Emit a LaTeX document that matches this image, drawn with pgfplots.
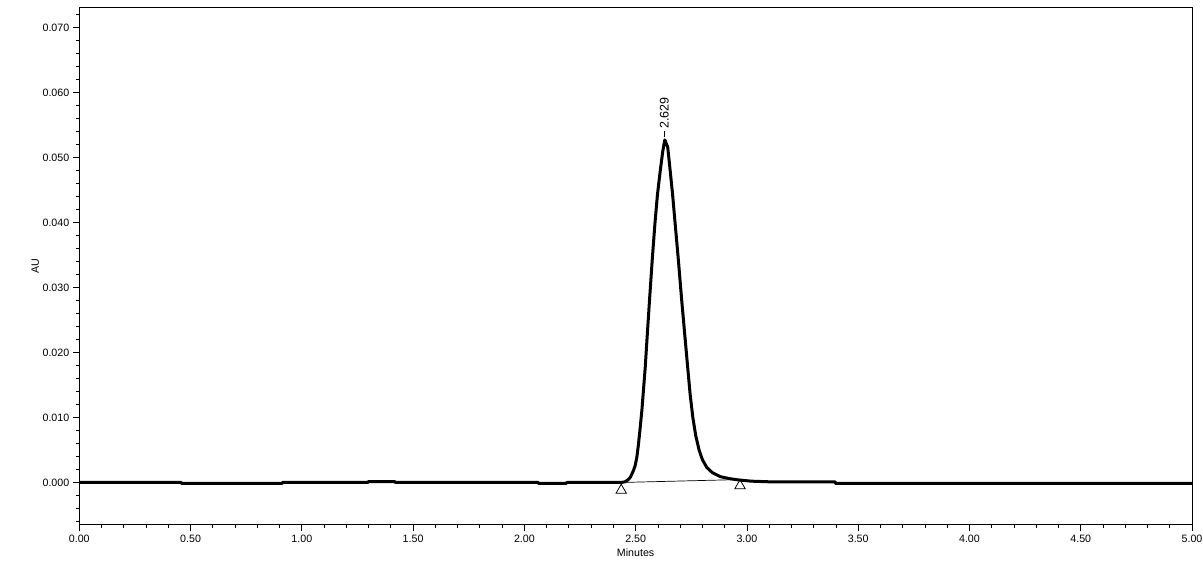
\documentclass[border=0pt]{standalone}
\usepackage{fontspec}
\setmainfont{Liberation Sans}
\usepackage{pgfplots}
\pgfplotsset{compat=1.18}
\usetikzlibrary{calc}

\begin{document}
\begin{tikzpicture}
\begin{axis}[
  scale only axis,
  width=1112.7bp, height=517.7bp,
  xmin=0, xmax=5, ymin=-0.00654, ymax=0.0731,
  xtick={0,0.5,...,5}, minor x tick num=4,
  ytick={0,0.01,0.02,0.03,0.04,0.05,0.06,0.07},
  minor ytick={-0.006,-0.004,-0.002,0.002,0.004,0.006,0.008,0.012,0.014,0.016,0.018,
    0.022,0.024,0.026,0.028,0.032,0.034,0.036,0.038,0.042,0.044,0.046,0.048,
    0.052,0.054,0.056,0.058,0.062,0.064,0.066,0.068,0.072},
  scaled y ticks=false, scaled x ticks=false,
  xticklabel style={/pgf/number format/.cd, fixed, fixed zerofill, precision=2, assume math mode=true},
  yticklabel style={/pgf/number format/.cd, fixed, fixed zerofill, precision=3, assume math mode=true},
  tick label style={font=\fontsize{10.67bp}{12bp}\selectfont},
  label style={font=\fontsize{10.67bp}{12bp}\selectfont},
  tick pos=left, tick align=outside,
  major tick length=6.5bp, minor tick length=3.5bp,
  every tick/.style={black, line width=0.8bp},
  axis line style={line width=1bp},
  xlabel={Minutes}, ylabel={AU},
  xlabel style={at={(axis description cs:0.5,0)}, anchor=center, yshift=-28bp},
  ylabel style={at={(axis description cs:0,0.5)}, anchor=center, yshift=44bp},
]
% integration baseline and markers
\addplot[black, line width=0.7bp] coordinates {(2.435,0.0) (2.969,0.00045)};
\addplot[black, only marks, mark=triangle, mark size=6bp, mark options={line width=0.8bp}]
  coordinates {(2.435,-0.0012) (2.969,-0.0005)};
% chromatogram
\addplot[black, line width=3bp, line join=round] coordinates {
  (0,0) (0.458,0) (0.460,-0.00015) (0.911,-0.00015) (0.913,0) (1.297,0)
  (1.299,0.00015) (1.418,0.00015) (1.420,0) (2.062,0) (2.064,-0.00015)
  (2.188,-0.00015) (2.190,0) (2.435,0) (2.452,0.0001) (2.465,0.0004)
  (2.476,0.0008) (2.486,0.0015) (2.497,0.0025) (2.505,0.0038) (2.512,0.0057)
  (2.520,0.0083) (2.528,0.0111) (2.543,0.0177) (2.552,0.0226) (2.562,0.0279)
  (2.575,0.0345) (2.587,0.0400) (2.598,0.0443) (2.610,0.0478) (2.622,0.0510)
  (2.631,0.0527) (2.644,0.0516) (2.655,0.0480) (2.666,0.0443) (2.677,0.0400)
  (2.692,0.0342) (2.707,0.0280) (2.720,0.0230) (2.733,0.0180) (2.745,0.0135)
  (2.757,0.0100) (2.770,0.0072) (2.785,0.0050) (2.800,0.0035) (2.820,0.0023)
  (2.845,0.0015) (2.880,0.0009) (2.920,0.0006) (2.960,0.0004) (3.020,0.0002)
  (3.104,0.0001) (3.396,0.0001) (3.398,-0.00015) (5,-0.00015)};
\draw[black, line width=0.8bp] (axis cs:2.629,0.0531) -- ([yshift=6bp]axis cs:2.629,0.0531)
  node[rotate=90, anchor=west, inner sep=2bp, font=\fontsize{12.5bp}{14bp}\selectfont] {2.629};
\end{axis}
\pgfresetboundingbox
\useasboundingbox ($(current axis.south west)+(-79.3bp,-63bp)$) rectangle ($(current axis.north east)+(11bp,7.3bp)$);
\end{tikzpicture}
\end{document}
